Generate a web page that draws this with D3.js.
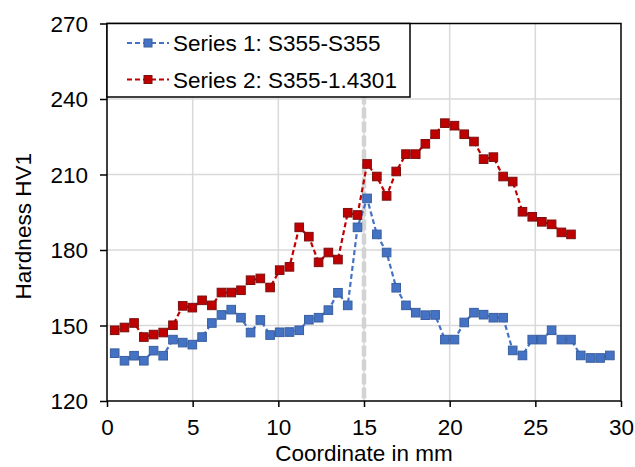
<!DOCTYPE html>
<html><head><meta charset="utf-8">
<script src="https://cdn.jsdelivr.net/npm/d3@7"></script>
<style>body{margin:0;background:#fff}svg{display:block}text{font-family:"Liberation Sans",Arial,sans-serif;fill:#000}</style>
</head><body><svg id="c" width="635" height="467"></svg>
<script>
const xTicks=[0,5,10,15,20,25,30];
const yTicks=[120,150,180,210,240,270];
const s1x=[0.45,1.02,1.58,2.15,2.72,3.28,3.85,4.42,4.98,5.55,6.12,6.68,7.25,7.82,8.38,8.95,9.52,10.08,10.65,11.22,11.78,12.35,12.92,13.48,14.05,14.62,15.18,15.75,16.32,16.88,17.45,18.02,18.58,19.15,19.72,20.28,20.85,21.42,21.98,22.55,23.12,23.68,24.25,24.82,25.38,25.95,26.52,27.08,27.65,28.22,28.78,29.35];
const s1y=[139,136,138,136,140,138,144.4,143.2,142.4,145.4,151,154.2,156.3,153.1,147.2,152.2,146.2,147.3,147.4,148.1,152.3,153.1,156.1,163,158,189,200.5,186.2,179,165,158,155.1,154.1,154.2,144.4,144.4,151.2,155.1,154.3,153.1,153.1,140.1,138.1,144.4,144.4,148.1,144.4,144.4,138.1,137.1,137.1,138.1];
const s2x=s1x.slice(0,48);
const s2y=[148.1,149.2,151,145.4,146.4,147.2,150.1,157.8,157.1,160,158,163.1,163.1,164,168,168.7,165.1,172,173.3,189,185.3,175.1,179,176.2,194.8,193.9,214.2,209.2,201.5,211.2,218.1,218.1,222.2,226,230.4,229.4,226,223.1,216.1,216.9,209.2,207.2,195.2,193.2,191.2,190.2,187,186.2];
const names=["Series 1: S355-S355","Series 2: S355-1.4301"];
const refX=15;

const svg=d3.select("#c");
const L=107,R=621,T=23.5,B=401;
const FS=22.5;
const x=d3.scaleLinear().domain([0,30]).range([L,R]);
const y=d3.scaleLinear().domain([120,270]).range([B,T]);

// grid
svg.append("g").selectAll("line").data(xTicks.slice(1,-1)).join("line")
 .attr("x1",d=>x(d)).attr("x2",d=>x(d)).attr("y1",T).attr("y2",B)
 .attr("stroke","#d9d9d9").attr("stroke-width",1.5);
svg.append("g").selectAll("line").data(yTicks.slice(1,-1)).join("line")
 .attr("y1",d=>y(d)).attr("y2",d=>y(d)).attr("x1",L).attr("x2",R)
 .attr("stroke","#d9d9d9").attr("stroke-width",1.5);

// reference line
svg.append("line").attr("x1",x(refX)).attr("x2",x(refX)).attr("y1",T).attr("y2",B)
 .attr("stroke","#d3d3d3").attr("stroke-width",4.5).attr("stroke-dasharray","11,3");

// axes
const xa=svg.append("g").attr("transform",`translate(0,${B})`)
 .call(d3.axisBottom(x).tickValues(xTicks).tickSize(6).tickPadding(12).tickSizeOuter(0));
const ya=svg.append("g").attr("transform",`translate(${L},0)`)
 .call(d3.axisLeft(y).tickValues(yTicks).tickSize(7).tickPadding(12).tickSizeOuter(0));
[xa,ya].forEach(g=>{g.select(".domain").remove();g.selectAll("line").attr("stroke","#000").attr("stroke-width",1.5);
 g.selectAll("text").attr("font-size",FS).attr("font-family","Liberation Sans, Arial, sans-serif").attr("fill","#111");});
xa.selectAll("text").attr("dy","0.71em");
ya.selectAll("text").attr("dy","0.35em");

svg.append("rect").attr("x",L).attr("y",T).attr("width",R-L).attr("height",B-T)
 .attr("fill","none").attr("stroke","#000").attr("stroke-width",1.5);

const cols=[{line:"#4472C4",fill:"#4472C4",stroke:"#3a5f9e"},{line:"#C00000",fill:"#C00000",stroke:"#7a1010"}];
const series=[{xs:s1x,ys:s1y},{xs:s2x,ys:s2y}];
const ln=d3.line().x(d=>x(d[0])).y(d=>y(d[1]));
series.forEach((s,i)=>{
 const pts=s.xs.map((v,j)=>[v,s.ys[j]]);
 svg.append("path").attr("d",ln(pts)).attr("fill","none").attr("stroke",cols[i].line)
  .attr("stroke-width",2.2).attr("stroke-dasharray","5,3");
 svg.append("g").selectAll("rect").data(pts).join("rect")
  .attr("x",d=>x(d[0])-4.3).attr("y",d=>y(d[1])-4.3).attr("width",8.6).attr("height",8.6)
  .attr("fill",cols[i].fill).attr("stroke",cols[i].stroke).attr("stroke-width",1);
});

// legend
const lg=svg.append("g");
lg.append("rect").attr("x",L).attr("y",T).attr("width",303).attr("height",73.5)
 .attr("fill","#fff").attr("stroke","#000").attr("stroke-width",1.5);
names.forEach((n,i)=>{
 const yy=T+19.5+i*36.5;
 lg.append("line").attr("x1",127).attr("x2",169).attr("y1",yy).attr("y2",yy)
  .attr("stroke",cols[i].line).attr("stroke-width",2.2).attr("stroke-dasharray","5,3");
 lg.append("rect").attr("x",144).attr("y",yy-4).attr("width",8).attr("height",8)
  .attr("fill",cols[i].fill).attr("stroke",cols[i].stroke).attr("stroke-width",1);
 lg.append("text").attr("x",173).attr("y",yy).attr("dy","0.36em").attr("font-size",FS).attr("fill","#111").text(n);
});

svg.append("text").attr("x",(L+R)/2).attr("y",461).attr("text-anchor","middle").attr("font-size",FS).attr("fill","#111").text("Coordinate in mm");
svg.append("text").attr("transform",`translate(31,${(T+B)/2+14}) rotate(-90)`).attr("text-anchor","middle").attr("font-size",FS).attr("fill","#111").text("Hardness HV1");
</script></body></html>
